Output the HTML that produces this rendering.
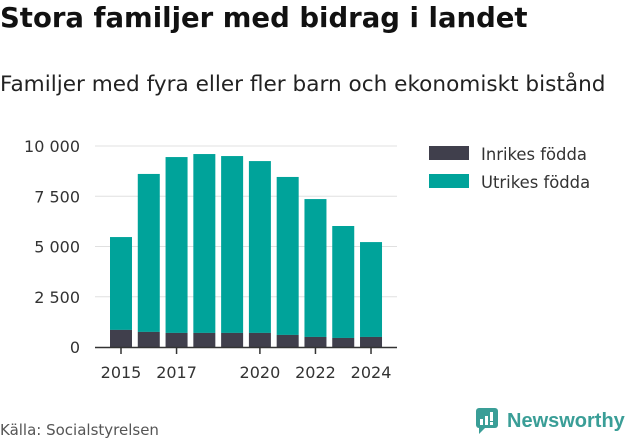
<!DOCTYPE html>
<html><head><meta charset="utf-8"><style>
body{margin:0;width:631px;height:439px;background:#fff;font-family:"DejaVu Sans","Liberation Sans",sans-serif;overflow:hidden;position:relative}
.t{position:absolute;color:#222;white-space:nowrap}
</style></head><body>
<div class="t" style="left:0;top:2px;font-size:27.5px;font-weight:bold;color:#111">Stora familjer med bidrag i landet</div>
<div class="t" style="left:0;top:72px;font-size:21.6px;color:#222">Familjer med fyra eller fler barn och ekonomiskt bistånd</div>
<svg id="chart" width="631" height="439" style="position:absolute;left:0;top:0"></svg>
<div class="t" style="left:0;top:421px;font-size:15px;color:#555">Källa: Socialstyrelsen</div>
<div style="position:absolute;left:476px;top:408px;display:flex;align-items:center">
<svg width="22" height="26" viewBox="0 0 22 26"><rect x="0" y="0" width="22" height="20" rx="3" fill="#3a9e97"/><path d="M3 20 L3 26 L9 20Z" fill="#3a9e97"/><rect x="4" y="11" width="3" height="6" fill="#fff"/><rect x="9" y="8" width="3" height="9" fill="#fff"/><rect x="14" y="4" width="3" height="9" fill="#fff"/><rect x="14" y="14" width="3" height="3" fill="#fff"/></svg>
<span style="font-size:20px;color:#3a9e97;margin-left:9px;font-weight:bold;font-family:'Liberation Sans',sans-serif">Newsworthy</span></div>
<script>
const years=[2015,2016,2017,2018,2019,2020,2021,2022,2023,2024];
const inrikes=[850,750,700,700,700,700,600,500,450,500];
const utrikes=[4620,7860,8750,8900,8800,8550,7860,6860,5570,4720];
const yTicks=[0,2500,5000,7500,10000];
const yTickLabels=["0","2 500","5 000","7 500","10 000"];
const xTickYears=[2015,2017,2020,2022,2024];
const NS="http://www.w3.org/2000/svg";
const svg=document.getElementById('chart');
const y=v=>347-v*201/10000;
const x=yr=>121+(yr-2015)*27.78;
const FF='DejaVu Sans, sans-serif';
function el(t,a){const e=document.createElementNS(NS,t);for(const k in a)e.setAttribute(k,a[k]);svg.appendChild(e);return e;}
yTicks.forEach((v,i)=>{
 if(v>0){const g=el('line',{x1:95,x2:397,y1:y(v),y2:y(v),stroke:'#e0e0e0','stroke-width':1});
 
 }
 const t=el('text',{x:80,y:y(v)+6,'text-anchor':'end','font-size':16,fill:'#333','font-family':FF});
 t.textContent=yTickLabels[i];
 
 
});
years.forEach((yr,i)=>{
 const a=el('rect',{x:x(yr)-11,width:22,y:y(inrikes[i]+utrikes[i]),height:y(inrikes[i])-y(inrikes[i]+utrikes[i]),fill:'#00a39a'});
 
 
 const b=el('rect',{x:x(yr)-11,width:22,y:y(inrikes[i]),height:y(0)-y(inrikes[i]),fill:'#403f4c'});
 
 
});
const ax=el('line',{x1:95,x2:397,y1:347.5,y2:347.5,stroke:'#333','stroke-width':1.5});


xTickYears.forEach(yr=>{
 el('line',{x1:x(yr),x2:x(yr),y1:348,y2:354,stroke:'#333','stroke-width':1.5});
 const t=el('text',{x:x(yr),y:378,'text-anchor':'middle','font-size':16,fill:'#333','font-family':FF});
 t.textContent=yr;
 
 
});
[["Inrikes födda","#403f4c",154],["Utrikes födda","#00a39a",182]].forEach(([n,c,yy])=>{
 const r=el('rect',{x:429,y:yy-8,width:40,height:14,fill:c});
 
 
 const t=el('text',{x:481,y:yy+6,'font-size':16.4,fill:'#333','font-family':FF});
 t.textContent=n;
 
 
});
</script>
</body></html>
